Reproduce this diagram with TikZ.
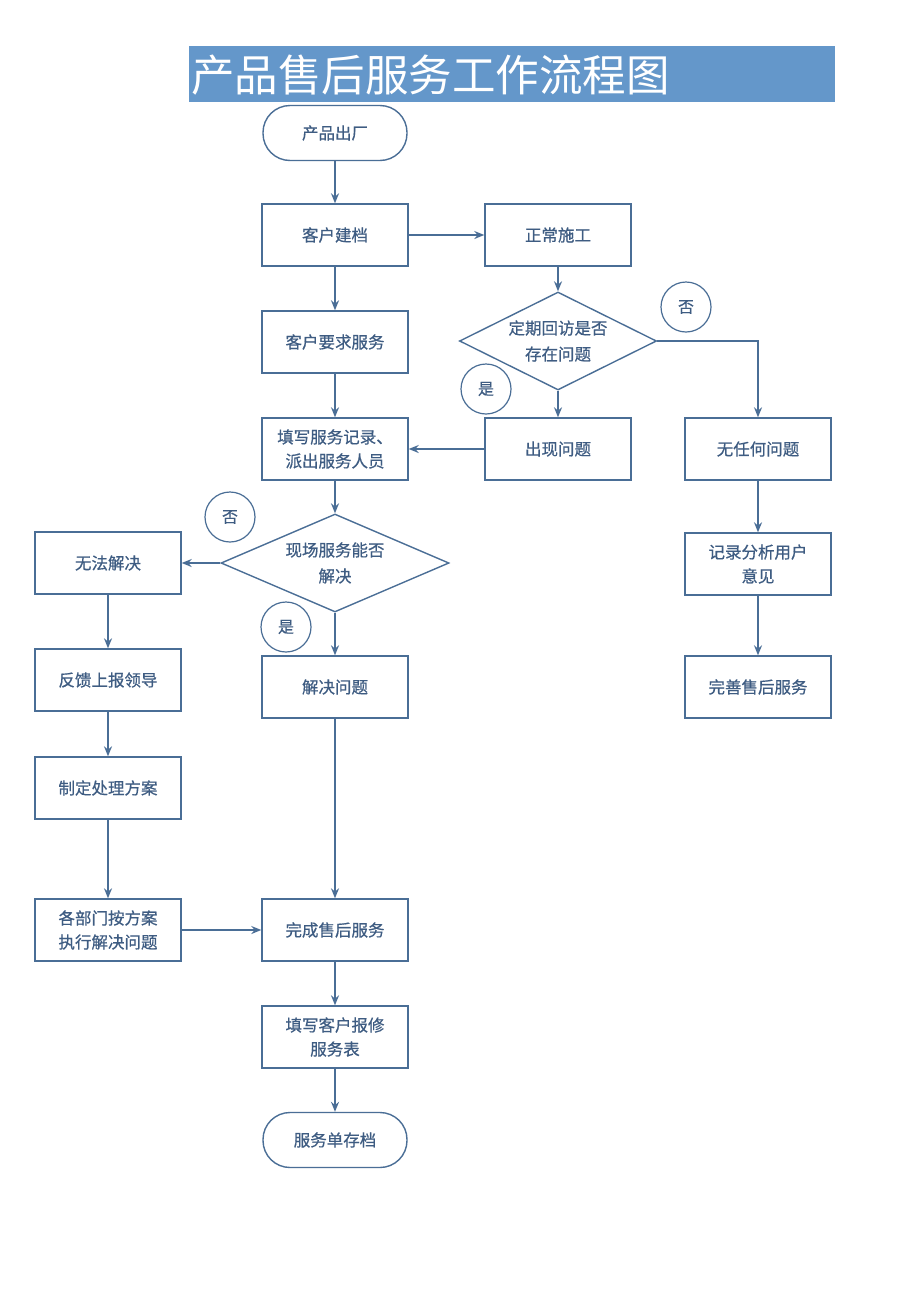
\documentclass[tikz,border=0pt]{standalone}
\usepackage{fontspec}
\setmainfont{Noto Sans CJK SC}[AutoFakeBold=0.6]
\newfontfamily\titlefont{Noto Sans CJK SC}
\usetikzlibrary{shapes.geometric,arrows.meta}
\definecolor{ln}{RGB}{74,110,150}
\definecolor{tx}{RGB}{62,92,130}
\definecolor{bar}{RGB}{100,151,202}
\begin{document}
\begin{tikzpicture}[x=1pt,y=-1pt,
  box/.style={draw=ln,line width=1.4pt,minimum width=146pt,minimum height=62pt,text=tx,font=\fontsize{16.5}{24}\selectfont\bfseries,align=center,inner sep=0pt},
  term/.style={draw=ln,line width=1.4pt,rounded corners=27pt,minimum width=144pt,minimum height=55pt,text=tx,font=\fontsize{16.5}{24}\selectfont\bfseries,align=center},
  dia/.style={draw=ln,line width=1.4pt,diamond,aspect=2,inner sep=0pt,text=tx,font=\fontsize{16.5}{26}\selectfont\bfseries,align=center},
  lab/.style={draw=ln,line width=1.2pt,circle,minimum size=50pt,inner sep=0pt,text=tx,font=\fontsize{16}{18}\selectfont\bfseries},
  arr/.style={draw=ln,line width=1.4pt,-{Stealth[length=10pt,width=8pt]}}]
\useasboundingbox (0,0) rectangle (920,1301);
\fill[white] (0,0) rectangle (920,1301);
\fill[bar] (189,46) rectangle (835,102);
\node[anchor=west,text=white,font=\titlefont\fontsize{43.5}{48}\selectfont,inner sep=0pt] (title) at (191,75) {产品售后服务工作流程图};

\node[term] (start) at (335,133) {产品出厂};
\node[box] (jd) at (335,235) {客户建档};
\node[box] (sg) at (558,235) {正常施工};
\node[box] (yq) at (335,342) {客户要求服务};
\node[dia,minimum width=197pt,minimum height=98pt] (d1) at (558,341) {定期回访是否\\存在问题};
\node[lab] (no1) at (686,307) {否};
\node[lab] (yes1) at (486,389) {是};
\node[box] (tx1) at (335,449) {填写服务记录、\\派出服务人员};
\node[box] (cx) at (558,449) {出现问题};
\node[box] (wr) at (758,449) {无任何问题};
\node[dia,minimum width=228pt,minimum height=98pt] (d2) at (335,563) {现场服务能否\\解决};
\node[lab] (no2) at (230,517) {否};
\node[lab] (yes2) at (286,627) {是};
\node[box] (wf) at (108,563) {无法解决};
\node[box] (fk) at (108,680) {反馈上报领导};
\node[box] (zd) at (108,788) {制定处理方案};
\node[box] (gb) at (108,930) {各部门按方案\\执行解决问题};
\node[box] (jj) at (335,687) {解决问题};
\node[box] (wc) at (335,930) {完成售后服务};
\node[box] (bx) at (335,1037) {填写客户报修\\服务表};
\node[term] (end) at (335,1140) {服务单存档};
\node[box] (jl) at (758,564) {记录分析用户\\意见};
\node[box] (ws) at (758,687) {完善售后服务};

\draw[arr] (start) -- (jd);
\draw[arr] (jd) -- (sg);
\draw[arr] (jd) -- (yq);
\draw[arr] (sg.south) -- (d1.north);
\draw[arr] (d1.south) -- (cx.north);
\draw[arr] (d1.east) -| (wr.north);
\draw[arr] (cx) -- (tx1);
\draw[arr] (yq) -- (tx1);
\draw[arr] (tx1.south) -- (d2.north);
\draw[arr] (d2.west) -- (wf.east);
\draw[arr] (d2.south) -- (jj.north);
\draw[arr] (wf) -- (fk);
\draw[arr] (fk) -- (zd);
\draw[arr] (zd) -- (gb);
\draw[arr] (gb) -- (wc);
\draw[arr] (jj) -- (wc);
\draw[arr] (wc) -- (bx);
\draw[arr] (bx) -- (end);
\draw[arr] (wr) -- (jl);
\draw[arr] (jl) -- (ws);
\end{tikzpicture}
\end{document}
